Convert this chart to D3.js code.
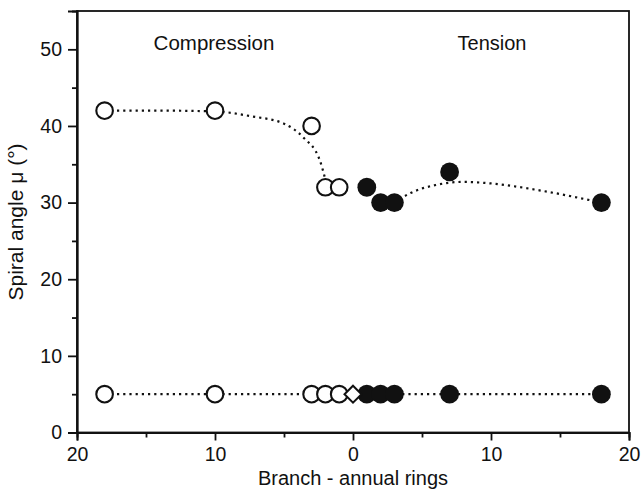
<!DOCTYPE html>
<html><head><meta charset="utf-8">
<script src="https://cdn.jsdelivr.net/npm/d3@7"></script>
<style>
html,body{margin:0;padding:0;background:#fff;}
text{font-family:"Liberation Sans",Arial,Helvetica,sans-serif;fill:#111;}
</style></head>
<body>
<svg id="c" width="642" height="493"></svg>
<script>
// Data (x: negative = compression side, positive = tension side; labels show absolute rings)
const xTicks = [-20, -10, 0, 10, 20];
const yTicks = [0, 10, 20, 30, 40, 50];

// Upper series: spiral angle
const compTopX = [-18, -10, -3, -2, -1];
const compTopY = [42, 42, 40, 32, 32];
const tensTopX = [1, 2, 3, 7, 18];
const tensTopY = [32, 30, 30, 34, 30];

// Lower series
const compBotX = [-18, -10, -3, -2, -1];
const compBotY = [5, 5, 5, 5, 5];
const midBotX = [0];
const midBotY = [5];
const tensBotX = [1, 2, 3, 7, 18];
const tensBotY = [5, 5, 5, 5, 5];

// Fitted trend curves
const fitCompX = [-18, -14, -10, -7.5, -5, -3.6, -2.4, -2];
const fitCompY = [42, 42, 41.9, 41.3, 40.3, 38.5, 35.5, 33];
const fitTensX = [3, 4, 6, 8, 10, 13.5, 18];
const fitTensY = [30, 31.1, 32.3, 32.7, 32.5, 31.6, 30];
const fitBotX = [-18, 18];
const fitBotY = [5, 5];

const svg = d3.select("#c");
const L = 77, R = 629, T = 11, B = 432.5;
const x = d3.scaleLinear().domain([-20, 20]).range([L, R]);
const y = d3.scaleLinear().domain([0, 55]).range([B, T]);

// Frame
svg.append("rect").attr("x", L).attr("y", T).attr("width", R - L).attr("height", B - T)
  .attr("fill", "none").attr("stroke", "#111").attr("stroke-width", 1.8);

// Axes
const xAxis = d3.axisBottom(x).tickValues(xTicks).tickSize(8).tickPadding(7)
  .tickFormat(d => Math.abs(d));
svg.append("g").attr("transform", `translate(0,${B})`).call(xAxis);
const xMinor = d3.axisBottom(x).tickValues([-15, -5, 5, 15]).tickSize(5).tickFormat("");
svg.append("g").attr("transform", `translate(0,${B})`).call(xMinor);

const yAxis = d3.axisLeft(y).tickValues(yTicks).tickSize(9).tickPadding(6);
svg.append("g").attr("transform", `translate(${L},0)`).call(yAxis);
const yMinor = d3.axisLeft(y).tickValues([5, 15, 25, 35, 45]).tickSize(5).tickFormat("");
svg.append("g").attr("transform", `translate(${L},0)`).call(yMinor);

svg.selectAll(".domain").attr("stroke", "#111").attr("stroke-width", 1.8);
svg.selectAll(".tick line").attr("stroke", "#111").attr("stroke-width", 1.8);
svg.selectAll(".tick text").style("font-size", "19.5px").attr("fill", "#111")
  .style("font-family", '"Liberation Sans",Arial,sans-serif');

// Axis titles and annotations
svg.append("text").attr("x", 353).attr("y", 485).attr("text-anchor", "middle")
  .style("font-size", "20px").text("Branch - annual rings");
svg.append("text").attr("transform", "translate(23,222) rotate(-90)").attr("text-anchor", "middle")
  .style("font-size", "21px").text("Spiral angle μ (°)");
svg.append("text").attr("x", 214).attr("y", 50).attr("text-anchor", "middle")
  .style("font-size", "20.5px").text("Compression");
svg.append("text").attr("x", 492).attr("y", 50).attr("text-anchor", "middle")
  .style("font-size", "20px").text("Tension");

// Trend lines
function curve(xs, ys, c) {
  const pts = xs.map((v, i) => [v, ys[i]]);
  svg.append("path").datum(pts)
    .attr("d", d3.line().x(d => x(d[0])).y(d => y(d[1])).curve(c))
    .attr("fill", "none").attr("stroke", "#111").attr("stroke-width", 2.2)
    .attr("stroke-dasharray", "2.2,4").attr("stroke-linecap", "butt");
}
curve(fitCompX, fitCompY, d3.curveMonotoneX);
curve(fitTensX, fitTensY, d3.curveMonotoneX);
curve(fitBotX, fitBotY, d3.curveLinear);

// Markers
function openCircles(xs, ys) {
  xs.forEach((v, i) => {
    svg.append("circle").attr("cx", x(v)).attr("cy", y(ys[i])).attr("r", 8.3)
      .attr("fill", "#fff").attr("stroke", "#111").attr("stroke-width", 2.1);
  });
}
function filledCircles(xs, ys) {
  xs.forEach((v, i) => {
    svg.append("circle").attr("cx", x(v)).attr("cy", y(ys[i])).attr("r", 9.4)
      .attr("fill", "#111");
  });
}
openCircles(compTopX, compTopY);
openCircles(compBotX, compBotY);
filledCircles(tensTopX, tensTopY);
filledCircles(tensBotX, tensBotY);
midBotX.forEach((v, i) => {
  const cx = x(v), cy = y(midBotY[i]), s = 8.5;
  svg.append("path").attr("d", `M${cx},${cy - s}L${cx + s},${cy}L${cx},${cy + s}L${cx - s},${cy}Z`)
    .attr("fill", "#fff").attr("stroke", "#111").attr("stroke-width", 2);
});
</script>
</body></html>
